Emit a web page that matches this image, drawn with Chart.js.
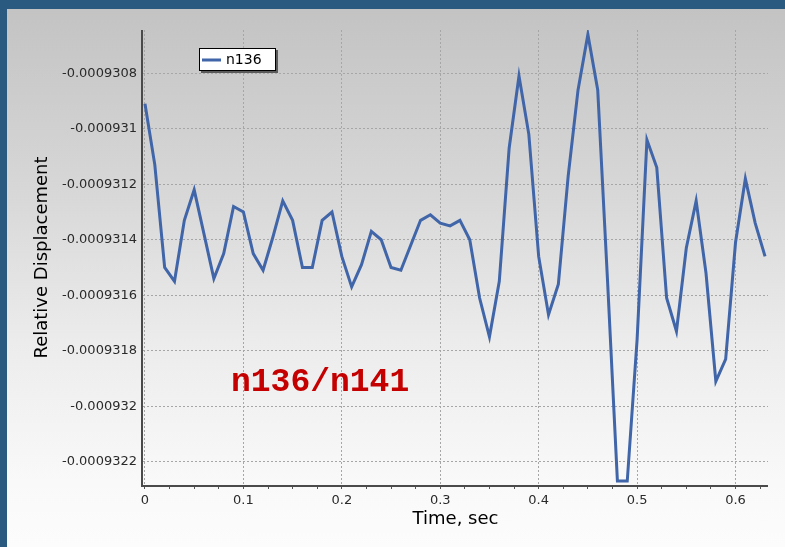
<!DOCTYPE html>
<html>
<head>
<meta charset="utf-8">
<script src="https://cdn.jsdelivr.net/npm/chart.js@4"></script>
<style>
  html, body { margin: 0; padding: 0; }
  body { background: #2a5a80; width: 785px; height: 547px; overflow: hidden; }
  #panel {
    position: absolute; left: 7px; top: 9px; width: 778px; height: 538px;
    background: linear-gradient(180deg, #c3c3c3 0%, #d8d8d8 35%, #ececec 62%, #f9f9f9 88%, #fcfcfc 100%);
  }
</style>
</head>
<body>
<div id="panel"><canvas id="chart"></canvas></div>
<script>
// time axis (sec)
const timeSec = [
  0.00, 0.01, 0.02, 0.03, 0.04, 0.05, 0.06, 0.07, 0.08, 0.09,
  0.10, 0.11, 0.12, 0.13, 0.14, 0.15, 0.16, 0.17, 0.18, 0.19,
  0.20, 0.21, 0.22, 0.23, 0.24, 0.25, 0.26, 0.27, 0.28, 0.29,
  0.30, 0.31, 0.32, 0.33, 0.34, 0.35, 0.36, 0.37, 0.38, 0.39,
  0.40, 0.41, 0.42, 0.43, 0.44, 0.45, 0.46, 0.47, 0.48, 0.49,
  0.50, 0.51, 0.52, 0.53, 0.54, 0.55, 0.56, 0.57, 0.58, 0.59,
  0.60, 0.61, 0.62, 0.63
];

// relative displacement of node n136
const n136 = [
  -0.00093091, -0.00093113, -0.00093150, -0.00093155, -0.00093133, -0.00093122, -0.00093138, -0.00093154, -0.00093145, -0.00093128,
  -0.00093130, -0.00093145, -0.00093151, -0.00093139, -0.00093126, -0.00093133, -0.00093150, -0.00093150, -0.00093133, -0.00093130,
  -0.00093146, -0.00093157, -0.00093149, -0.00093137, -0.00093140, -0.00093150, -0.00093151, -0.00093142, -0.00093133, -0.00093131,
  -0.00093134, -0.00093135, -0.00093133, -0.00093140, -0.00093161, -0.00093175, -0.00093155, -0.00093107, -0.00093081, -0.00093102,
  -0.00093146, -0.00093167, -0.00093156, -0.00093117, -0.00093086, -0.00093066, -0.00093086, -0.00093155, -0.00093227, -0.00093227,
  -0.00093176, -0.00093104, -0.00093114, -0.00093161, -0.00093173, -0.00093143, -0.00093126, -0.00093152, -0.00093191, -0.00093183,
  -0.00093141, -0.00093118, -0.00093134, -0.00093146
];

const xTicks = [0, 0.1, 0.2, 0.3, 0.4, 0.5, 0.6];
const xTickLabels = ["0", "0.1", "0.2", "0.3", "0.4", "0.5", "0.6"];
const yTicks = [-0.0009322, -0.000932, -0.0009318, -0.0009316, -0.0009314, -0.0009312, -0.000931, -0.0009308];
const yTickLabels = ["-0.0009322", "-0.000932", "-0.0009318", "-0.0009316", "-0.0009314", "-0.0009312", "-0.000931", "-0.0009308"];

const seriesName = "n136";
const noteText = "n136/n141";

const lineColor = "#4065a8";
const gridColor = "#a6a6a6";
const axisColor = "#4a4a4a";
const tickFont = { family: "'DejaVu Sans'", size: 13 };

// axis lines, legend box and the red note, placed from the chart area
const overlayPlugin = {
  id: "overlay",
  beforeDatasetsDraw(chart) {
    const { ctx, chartArea } = chart;
    ctx.save();
    ctx.strokeStyle = axisColor;
    ctx.lineWidth = 2;
    ctx.setLineDash([]);
    ctx.beginPath();
    ctx.moveTo(chartArea.left - 1, chartArea.top);
    ctx.lineTo(chartArea.left - 1, chartArea.bottom + 1);
    ctx.lineTo(chartArea.right, chartArea.bottom + 1);
    ctx.stroke();
    ctx.restore();
  },
  afterDatasetsDraw(chart) {
    const { ctx, chartArea } = chart;
    ctx.save();
    // legend
    const bx = chartArea.left + 56, by = chartArea.top + 18, bw = 77, bh = 23;
    ctx.fillStyle = "#5a5a5a";
    ctx.fillRect(bx + 2, by + 2, bw, bh);
    ctx.fillStyle = "#ffffff";
    ctx.fillRect(bx, by, bw, bh);
    ctx.strokeStyle = "#000000";
    ctx.lineWidth = 1;
    ctx.strokeRect(bx + 0.5, by + 0.5, bw - 1, bh - 1);
    ctx.strokeStyle = lineColor;
    ctx.lineWidth = 3;
    ctx.beginPath();
    ctx.moveTo(bx + 3, by + 12);
    ctx.lineTo(bx + 22, by + 12);
    ctx.stroke();
    ctx.fillStyle = "#000000";
    ctx.font = "14px 'DejaVu Sans'";
    ctx.textBaseline = "middle";
    ctx.fillText(seriesName, bx + 27, by + 12.5);
    // note
    ctx.fillStyle = "#c40000";
    ctx.font = "bold 33px 'Liberation Mono'";
    ctx.textBaseline = "alphabetic";
    ctx.fillText(noteText, chartArea.left + 88, chartArea.top + 361);
    ctx.restore();
  }
};

new Chart(document.getElementById("chart"), {
  type: "line",
  data: {
    datasets: [{
      label: seriesName,
      data: timeSec.map((t, i) => ({ x: t, y: n136[i] })),
      borderColor: lineColor,
      borderWidth: 3,
      pointRadius: 0,
      tension: 0,
      fill: false
    }]
  },
  options: {
    responsive: true,
    maintainAspectRatio: false,
    animation: false,
    layout: { padding: { top: 21, right: 17, left: 0, bottom: 0 } },
    plugins: { legend: { display: false }, tooltip: { enabled: false } },
    scales: {
      x: {
        type: "linear",
        min: -0.002,
        max: 0.633,
        afterFit(scale) { scale.height = 62; },
        afterBuildTicks(scale) {
          const ticks = [];
          xTicks.forEach(v => {
            ticks.push({ value: v, minor: false });
            [0.025, 0.05, 0.075].forEach(d => {
              if (v + d <= 0.633) ticks.push({ value: v + d, minor: true });
            });
          });
          scale.ticks = ticks;
        },
        ticks: {
          autoSkip: false,
          maxRotation: 0,
          padding: 4,
          color: "#2a2a2a",
          font: tickFont,
          callback(value, index, ticks) {
            const k = xTicks.findIndex(v => Math.abs(v - value) < 1e-9);
            return k >= 0 ? xTickLabels[k] : "";
          }
        },
        grid: {
          color: c => (c.tick && !c.tick.minor) ? gridColor : "rgba(0,0,0,0)",
          lineWidth: 1,
          drawTicks: true,
          tickLength: 4,
          tickColor: "#555555",
          tickWidth: 1
        },
        border: { display: false, dash: [2, 2] },
        title: {
          display: true,
          text: "Time, sec",
          color: "#000000",
          font: { family: "'DejaVu Sans'", size: 18 },
          padding: { top: 0, bottom: 17 }
        }
      },
      y: {
        type: "linear",
        min: -0.000932284,
        max: -0.000930644,
        afterFit(scale) { scale.width = 136; },
        afterBuildTicks(scale) {
          scale.ticks = yTicks.map(v => ({ value: v }));
        },
        ticks: {
          autoSkip: false,
          padding: 6,
          color: "#2a2a2a",
          font: tickFont,
          callback(value, index) { return yTickLabels[index]; }
        },
        grid: {
          color: gridColor,
          lineWidth: 1,
          drawTicks: false
        },
        border: { display: false, dash: [2, 2] },
        title: {
          display: true,
          text: "Relative Displacement",
          color: "#000000",
          font: { family: "'DejaVu Sans'", size: 18 },
          padding: { top: 25, bottom: 0 }
        }
      }
    }
  },
  plugins: [overlayPlugin]
});
</script>
</body>
</html>
